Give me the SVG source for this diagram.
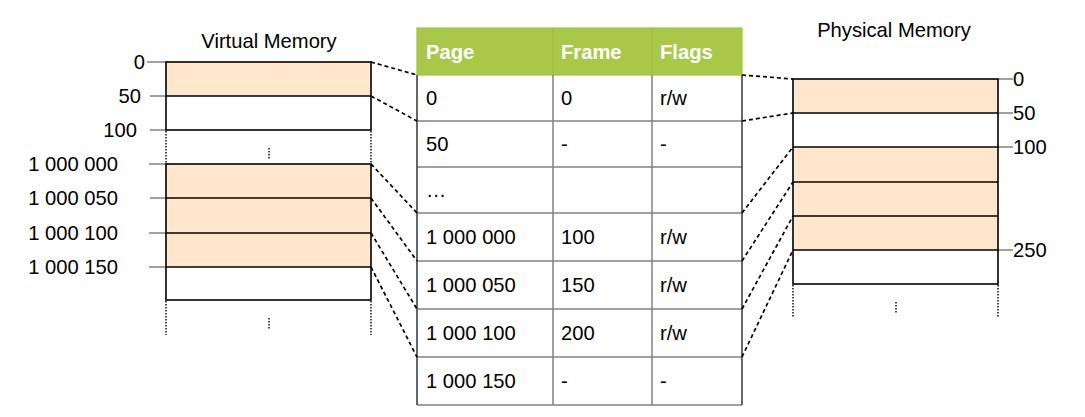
<svg xmlns="http://www.w3.org/2000/svg" width="1085" height="417" viewBox="0 0 1085 417">
  <style>
    text { font-family: "Liberation Sans", Arial, sans-serif; font-size: 20.2px; fill: #000; }
    .title { text-anchor: middle; }
    .lbl-l { text-anchor: end; }
    .lbl-r { text-anchor: start; }
    .hdr { font-weight: bold; fill: #fff; }
    .tick { stroke: #808080; stroke-width: 1.5; fill: none; }
    .block { stroke: #000; stroke-width: 1.6; }
    .used { fill: #ffe6cc; }
    .free { fill: #fff; }
    .div { stroke: #000; stroke-width: 1.6; }
    .dots { stroke: #000; stroke-width: 1.4; stroke-dasharray: 1.5 1.5; fill: none; }
    .grid { stroke: #808080; stroke-width: 1.5; }
    .edge { stroke: #404040; stroke-width: 1.6; }
    .map { stroke: #000; stroke-width: 1.7; stroke-dasharray: 4 3; fill: none; }
  </style>

  <!-- Virtual memory column -->
  <g id="virtual-memory">
    <text class="title" x="269" y="48">Virtual Memory</text>
    <!-- address ticks -->
    <line class="tick" x1="147" y1="62" x2="166" y2="62"/>
    <line class="tick" x1="150" y1="96" x2="166" y2="96"/>
    <line class="tick" x1="150" y1="130" x2="166" y2="130"/>
    <line class="tick" x1="149" y1="164" x2="166" y2="164"/>
    <line class="tick" x1="150" y1="198" x2="166" y2="198"/>
    <line class="tick" x1="149" y1="233" x2="166" y2="233"/>
    <line class="tick" x1="149" y1="267" x2="166" y2="267"/>
    <text class="lbl-l" x="145" y="69">0</text>
    <text class="lbl-l" x="141" y="103">50</text>
    <text class="lbl-l" x="137" y="137">100</text>
    <text class="lbl-l" x="118" y="171">1 000 000</text>
    <text class="lbl-l" x="118" y="205">1 000 050</text>
    <text class="lbl-l" x="118" y="240">1 000 100</text>
    <text class="lbl-l" x="118" y="274">1 000 150</text>
    <!-- first block: pages 0, 50 -->
    <rect class="used" x="166" y="62" width="205" height="34"/>
    <rect class="free" x="166" y="96" width="205" height="34"/>
    <rect class="block" x="166" y="62" width="205" height="68" fill="none"/>
    <line class="div" x1="166" y1="96" x2="371" y2="96"/>
    <!-- gap -->
    <line class="dots" x1="166" y1="131" x2="166" y2="164"/>
    <line class="dots" x1="371" y1="131" x2="371" y2="164"/>
    <line class="dots" x1="269" y1="148" x2="269" y2="159"/>
    <!-- second block: pages 1 000 000 .. 1 000 150 -->
    <rect class="used" x="166" y="164" width="205" height="103"/>
    <rect class="free" x="166" y="267" width="205" height="33"/>
    <rect class="block" x="166" y="164" width="205" height="136" fill="none"/>
    <line class="div" x1="166" y1="198" x2="371" y2="198"/>
    <line class="div" x1="166" y1="233" x2="371" y2="233"/>
    <line class="div" x1="166" y1="267" x2="371" y2="267"/>
    <line class="dots" x1="166" y1="301" x2="166" y2="335"/>
    <line class="dots" x1="371" y1="301" x2="371" y2="335"/>
    <line class="dots" x1="269" y1="318" x2="269" y2="330"/>
  </g>

  <!-- Page table -->
  <g id="page-table">
    <rect x="417" y="28" width="325" height="47" fill="#a9c84a" stroke="#a0c33e" stroke-width="1.2"/>
    <line x1="553" y1="28" x2="553" y2="75" stroke="#9dbf3c" stroke-width="1"/>
    <line x1="652" y1="28" x2="652" y2="75" stroke="#9dbf3c" stroke-width="1"/>
    <text class="hdr" x="426" y="59">Page</text>
    <text class="hdr" x="561" y="59">Frame</text>
    <text class="hdr" x="660" y="59">Flags</text>
    <!-- grid -->
    <line class="grid" x1="417" y1="121" x2="742" y2="121"/>
    <line class="grid" x1="417" y1="167" x2="742" y2="167"/>
    <line class="grid" x1="417" y1="213" x2="742" y2="213"/>
    <line class="grid" x1="417" y1="261" x2="742" y2="261"/>
    <line class="grid" x1="417" y1="309" x2="742" y2="309"/>
    <line class="grid" x1="417" y1="357" x2="742" y2="357"/>
    <line class="grid" x1="417" y1="405" x2="742" y2="405"/>
    <line class="grid" x1="553" y1="75" x2="553" y2="405"/>
    <line class="grid" x1="652" y1="75" x2="652" y2="405"/>
    <line class="edge" x1="417" y1="75" x2="417" y2="405"/>
    <line class="edge" x1="742" y1="75" x2="742" y2="405"/>
    <!-- rows -->
    <text x="426" y="105">0</text>
    <text x="561" y="105">0</text>
    <text x="660" y="105">r/w</text>
    <text x="426" y="151">50</text>
    <text x="561" y="151">-</text>
    <text x="660" y="151">-</text>
    <text x="426" y="197">…</text>
    <text x="426" y="244">1 000 000</text>
    <text x="561" y="244">100</text>
    <text x="660" y="244">r/w</text>
    <text x="426" y="292">1 000 050</text>
    <text x="561" y="292">150</text>
    <text x="660" y="292">r/w</text>
    <text x="426" y="340">1 000 100</text>
    <text x="561" y="340">200</text>
    <text x="660" y="340">r/w</text>
    <text x="426" y="388">1 000 150</text>
    <text x="561" y="388">-</text>
    <text x="660" y="388">-</text>
  </g>

  <!-- Physical memory column -->
  <g id="physical-memory">
    <text class="title" x="894" y="37">Physical Memory</text>
    <line class="tick" x1="998" y1="79" x2="1013" y2="79"/>
    <line class="tick" x1="998" y1="113" x2="1013" y2="113"/>
    <line class="tick" x1="998" y1="147" x2="1013" y2="147"/>
    <line class="tick" x1="998" y1="250" x2="1013" y2="250"/>
    <text class="lbl-r" x="1013" y="86">0</text>
    <text class="lbl-r" x="1013" y="120">50</text>
    <text class="lbl-r" x="1013" y="154">100</text>
    <text class="lbl-r" x="1013" y="257">250</text>
    <rect class="used" x="793" y="79" width="205" height="34"/>
    <rect class="free" x="793" y="113" width="205" height="34"/>
    <rect class="used" x="793" y="147" width="205" height="103"/>
    <rect class="free" x="793" y="250" width="205" height="34"/>
    <rect class="block" x="793" y="79" width="205" height="205" fill="none"/>
    <line class="div" x1="793" y1="113" x2="998" y2="113"/>
    <line class="div" x1="793" y1="147" x2="998" y2="147"/>
    <line class="div" x1="793" y1="182" x2="998" y2="182"/>
    <line class="div" x1="793" y1="216" x2="998" y2="216"/>
    <line class="div" x1="793" y1="250" x2="998" y2="250"/>
    <line class="dots" x1="793" y1="285" x2="793" y2="318"/>
    <line class="dots" x1="998" y1="285" x2="998" y2="318"/>
    <line class="dots" x1="896" y1="302" x2="896" y2="313"/>
  </g>

  <!-- Mapping connectors -->
  <g id="connectors">
    <line class="map" x1="371" y1="62" x2="417" y2="75"/>
    <line class="map" x1="371" y1="96" x2="417" y2="121"/>
    <line class="map" x1="371" y1="164" x2="417" y2="213"/>
    <line class="map" x1="371" y1="198" x2="417" y2="261"/>
    <line class="map" x1="371" y1="233" x2="417" y2="309"/>
    <line class="map" x1="371" y1="267" x2="417" y2="357"/>
    <line class="map" x1="742" y1="75" x2="793" y2="79"/>
    <line class="map" x1="742" y1="121" x2="793" y2="113"/>
    <line class="map" x1="742" y1="213" x2="793" y2="147"/>
    <line class="map" x1="742" y1="261" x2="793" y2="182"/>
    <line class="map" x1="742" y1="309" x2="793" y2="216"/>
    <line class="map" x1="742" y1="357" x2="793" y2="250"/>
  </g>
</svg>
